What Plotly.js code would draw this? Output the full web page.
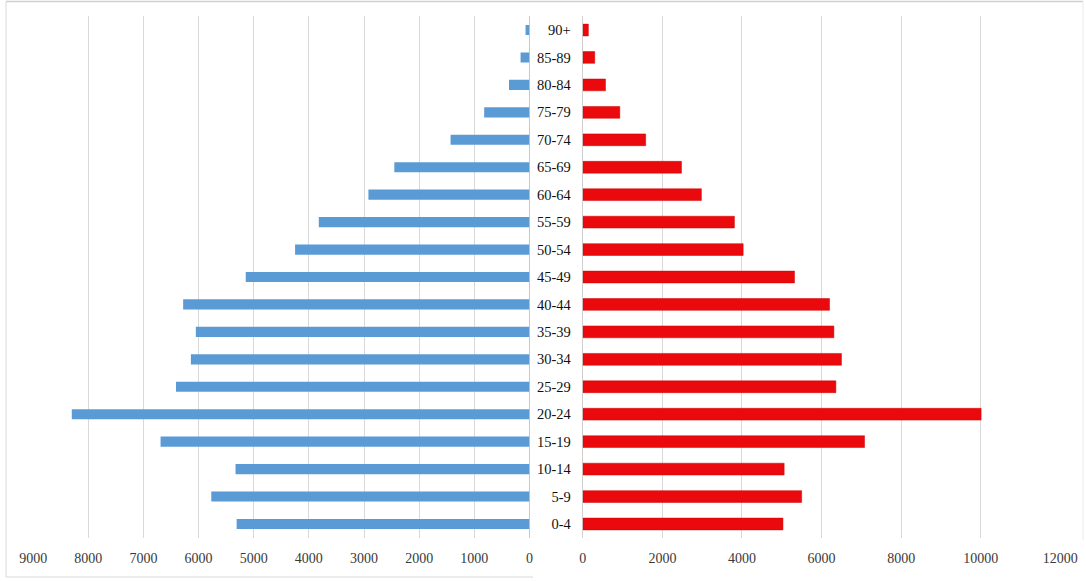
<!DOCTYPE html>
<html>
<head>
<meta charset="utf-8">
<script src="https://cdn.plot.ly/plotly-3.0.1.min.js"></script>
<style>html,body{margin:0;padding:0;background:#fff;}#chart{width:1086px;height:581px;}</style>
</head>
<body>
<div id="chart"></div>
<script>
const ageGroups = ["0-4","5-9","10-14","15-19","20-24","25-29","30-34","35-39","40-44","45-49","50-54","55-59","60-64","65-69","70-74","75-79","80-84","85-89","90+"];
const leftValues = [5310, 5770, 5330, 6690, 8300, 6410, 6140, 6050, 6280, 5145, 4250, 3820, 2920, 2450, 1430, 820, 370, 160, 70];
const rightValues = [5030, 5500, 5060, 7080, 10010, 6360, 6500, 6310, 6200, 5320, 4030, 3810, 2980, 2480, 1580, 930, 570, 300, 140];
const leftTicks = [0, 1000, 2000, 3000, 4000, 5000, 6000, 7000, 8000, 9000];
const rightTicks = [0, 2000, 4000, 6000, 8000, 10000, 12000];

const W = 1086, H = 581;
const tickFont = {family: "Liberation Serif, Times New Roman, serif", size: 14, color: "#3a3a3a"};

const traces = [
  {type: "bar", orientation: "h", y: ageGroups, x: leftValues, xaxis: "x", yaxis: "y",
   marker: {color: "#5b9bd5"}, width: 0.37, hoverinfo: "x+y"},
  {type: "bar", orientation: "h", y: ageGroups, x: rightValues, xaxis: "x2", yaxis: "y",
   marker: {color: "#ea0a0e", line: {color: "#d00000", width: 0.5}}, width: 0.43, hoverinfo: "x+y"}
];

const layout = {
  width: W, height: H,
  margin: {l: 0, r: 0, t: 0, b: 0},
  paper_bgcolor: "#ffffff", plot_bgcolor: "rgba(0,0,0,0)",
  showlegend: false,
  xaxis: {domain: [33.2 / W, 529.4 / W], range: [9000, 0], anchor: "y",
          tickvals: leftTicks, ticktext: leftTicks.map(String), tickfont: tickFont,
          showgrid: true, gridcolor: "#d9d9d9", gridwidth: 1,
          zeroline: true, zerolinecolor: "#c8c8c8", zerolinewidth: 1,
          showline: false, ticks: "", ticklabelstandoff: 10, fixedrange: true},
  xaxis2: {domain: [582.8 / W, 1060.3 / W], range: [0, 12000], anchor: "y",
           tickvals: rightTicks, ticktext: rightTicks.map(String), tickfont: tickFont,
           showgrid: true, gridcolor: "#d9d9d9", gridwidth: 1,
           zeroline: true, zerolinecolor: "#d0d0d0", zerolinewidth: 1,
           showline: false, ticks: "", ticklabelstandoff: 10, fixedrange: true},
  yaxis: {domain: [(H - 537.7) / H, (H - 16.3) / H], anchor: "x2",
          type: "category", categoryorder: "array", categoryarray: ageGroups,
          range: [-0.5, 18.5], showgrid: false, zeroline: false, showline: false,
          ticks: "", ticklabelstandoff: 11,
          tickfont: {family: "Liberation Serif, Times New Roman, serif", size: 14.5, color: "#111111"},
          fixedrange: true},
  shapes: [
    {type: "line", xref: "paper", yref: "paper", x0: 6 / W, x1: 1083 / W, y0: (H - 1.5) / H, y1: (H - 1.5) / H, line: {color: "#d0d0d0", width: 1.5}},
    {type: "line", xref: "paper", yref: "paper", x0: 6 / W, x1: 6 / W, y0: (H - 1.5) / H, y1: (H - 577) / H, line: {color: "#d9d9d9", width: 1}},
    {type: "line", xref: "paper", yref: "paper", x0: 6 / W, x1: 533 / W, y0: (H - 577) / H, y1: (H - 577) / H, line: {color: "#d9d9d9", width: 1}},
    {type: "line", xref: "paper", yref: "paper", x0: 1083 / W, x1: 1083 / W, y0: (H - 1.5) / H, y1: (H - 540) / H, line: {color: "#ececec", width: 1}}
  ]
};

Plotly.newPlot("chart", traces, layout, {displayModeBar: false, staticPlot: true});
</script>
</body>
</html>
